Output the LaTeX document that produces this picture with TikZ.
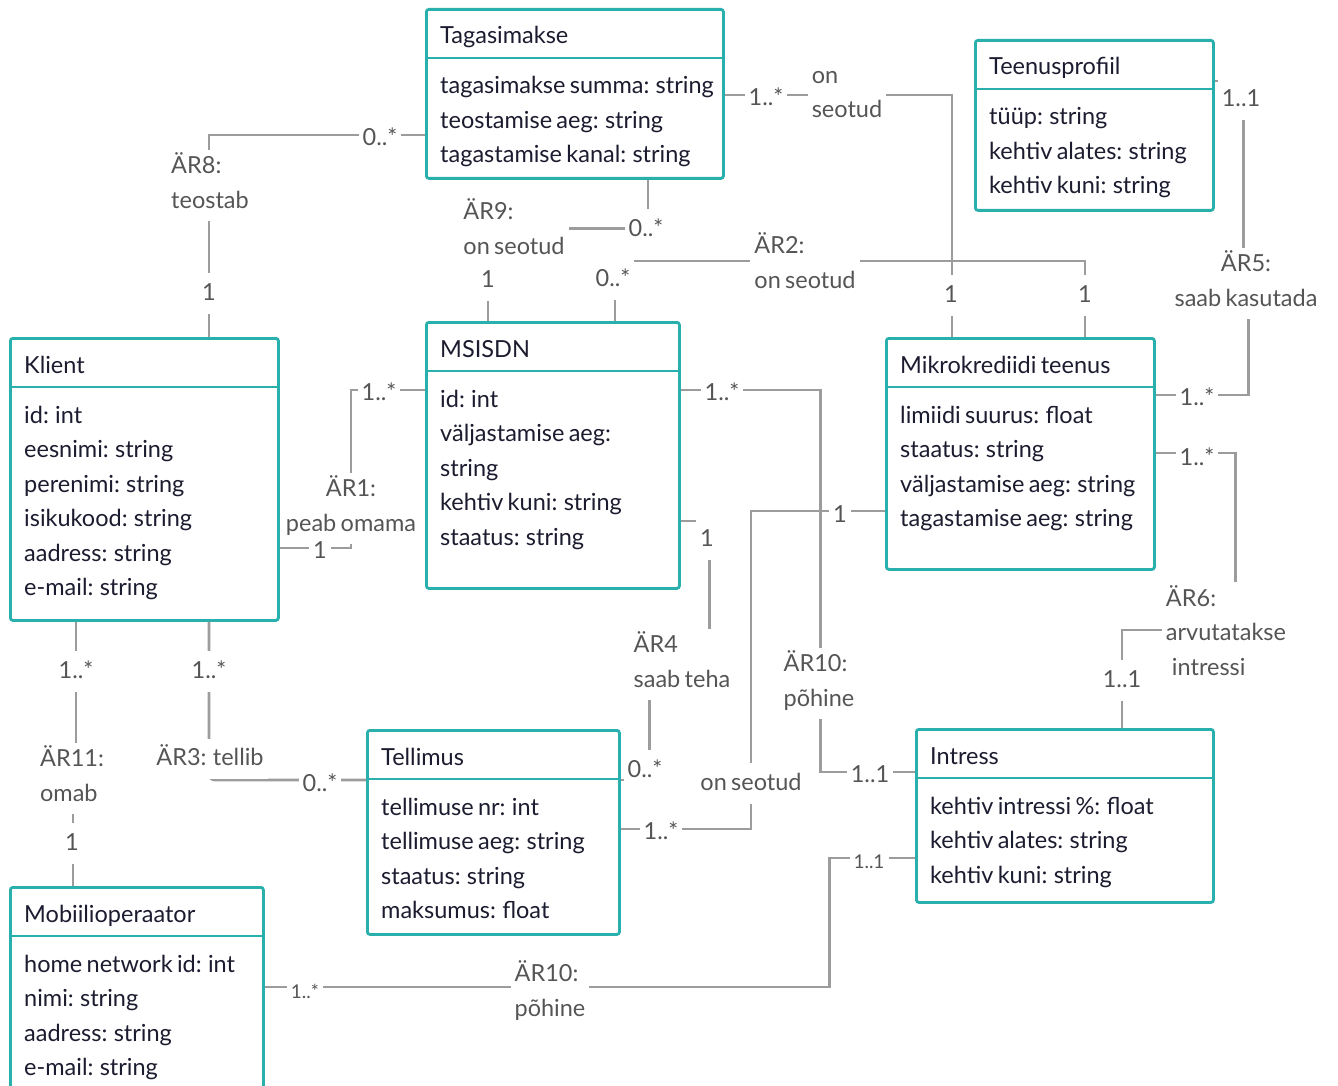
\documentclass[tikz,border=0pt]{standalone}
\usepackage{fontspec}
\setmainfont{Lato}[WordSpace=0.72]
\usepackage{tikz}
\usetikzlibrary{calc}

\definecolor{boxteal}{HTML}{2AB0AC}
\definecolor{linegray}{HTML}{9C9C9C}
\definecolor{labelgray}{HTML}{555555}
\definecolor{ink}{HTML}{1C1C30}

\tikzset{
  classbox/.style={draw=boxteal, line width=2.8pt, rounded corners=2.5pt, anchor=north west, inner sep=0pt, fill=white},
  divider/.style={draw=boxteal, line width=2.8pt},
  title/.style={anchor=base west, text=ink, inner sep=0pt, font=\fontsize{23.5}{34.5}\selectfont},
  attr/.style={title},
  rel/.style={draw=linegray, line width=2.8pt},
  lbl/.style={fill=white, text=labelgray, inner xsep=4pt, inner ysep=3pt, align=left, yshift=-3.5pt,
    font=\fontsize{23.5}{34.5}\selectfont, execute at begin node=\strut, execute at end node=\strut},
  cornerlbl/.style={lbl, yshift=3.5pt},
  smalllbl/.style={lbl, font=\fontsize{19}{34.5}\selectfont}
}

\begin{document}
\begin{tikzpicture}[x=1pt, y=-1pt]
            \fill[white] (0,0) rectangle (1338,1086);
            \useasboundingbox (0,0) rectangle (1338,1086);

            % Classes
            \node[classbox, minimum width=297pt, minimum height=169pt] (tag) at (425,8) {};
            \node[classbox, minimum width=238pt, minimum height=170pt] (tp) at (974,39) {};
            \node[classbox, minimum width=268pt, minimum height=282pt] (kl) at (9,337) {};
            \node[classbox, minimum width=253pt, minimum height=266pt] (ms) at (425,321) {};
            \node[classbox, minimum width=268pt, minimum height=231pt] (mk) at (885,337) {};
            \node[classbox, minimum width=252pt, minimum height=204pt] (tel) at (366,729) {};
            \node[classbox, minimum width=297pt, minimum height=173pt] (int) at (915,728) {};
            \node[classbox, minimum width=253pt, minimum height=230pt] (mob) at (9,886) {};

            % Header lines and titles
            \foreach \c/\t in {tag/Tagasimakse, tp/Teenusprofiil, kl/Klient, ms/MSISDN,
                mk/Mikrokrediidi teenus, tel/Tellimus, int/Intress, mob/Mobiilioperaator} {
              \draw[divider] ([yshift=-50pt]\c.north west) -- ([yshift=-50pt]\c.north east);
              \node[title] (\c-t) at ([shift={(15pt,-36pt)}]\c.north west) {\t};
            }

            % Attributes
            \foreach \a [count=\i] in {tagasimakse summa: string, teostamise aeg: string, tagastamise kanal: string}
              \node[attr] (tag-\i) at ([shift={(15pt,{(-51.5-34.5*\i)*1pt})}]tag.north west) {\a};
            \foreach \a [count=\i] in {tüüp: string, kehtiv alates: string, kehtiv kuni: string}
              \node[attr] (tp-\i) at ([shift={(15pt,{(-51.5-34.5*\i)*1pt})}]tp.north west) {\a};
            \foreach \a [count=\i] in {id: int, eesnimi: string, perenimi: string, isikukood: string, aadress: string, e-mail: string}
              \node[attr] (kl-\i) at ([shift={(15pt,{(-51.5-34.5*\i)*1pt})}]kl.north west) {\a};
            \foreach \a [count=\i] in {id: int, väljastamise aeg:, string, kehtiv kuni: string, staatus: string}
              \node[attr] (ms-\i) at ([shift={(15pt,{(-51.5-34.5*\i)*1pt})}]ms.north west) {\a};
            \foreach \a [count=\i] in {limiidi suurus: float, staatus: string, väljastamise aeg: string, tagastamise aeg: string}
              \node[attr] (mk-\i) at ([shift={(15pt,{(-51.5-34.5*\i)*1pt})}]mk.north west) {\a};
            \foreach \a [count=\i] in {tellimuse nr: int, tellimuse aeg: string, staatus: string, maksumus: float}
              \node[attr] (tel-\i) at ([shift={(15pt,{(-51.5-34.5*\i)*1pt})}]tel.north west) {\a};
            \foreach \a [count=\i] in {kehtiv intressi \%: float, kehtiv alates: string, kehtiv kuni: string}
              \node[attr] (int-\i) at ([shift={(15pt,{(-51.5-34.5*\i)*1pt})}]int.north west) {\a};
            \foreach \a [count=\i] in {home network id: int, nimi: string, aadress: string, e-mail: string}
              \node[attr] (mob-\i) at ([shift={(15pt,{(-51.5-34.5*\i)*1pt})}]mob.north west) {\a};

            % Relations
            \draw[rel] ([xshift=200pt]kl.north west) |- ([yshift=-127pt]tag.north west);
            \draw[rel] ([yshift=-87pt]tag.north east) -| ([xshift=67pt]mk.north west);
            \draw[rel] ([xshift=190pt]ms.north west) -- ++(0,-60) -| ([xshift=200pt]mk.north west);
            \draw[rel] ([xshift=223pt]tag.south west) -- ++(0,49) -| ([xshift=63pt]ms.north west);
            \draw[rel] ([yshift=-69pt]ms.north west) -- ++(-74,0) |- ([yshift=-211pt]kl.north east);
            \draw[rel] ([yshift=-58pt]mk.north east) -- ++(93,0) -- ++(0,-135) -- ++(-5,0) |- ([yshift=-42pt]tp.north east);
            \draw[rel] ([yshift=-116pt]mk.north east) -- ++(80,0) -- ++(0,177) -| ([xshift=207pt]int.north west);
            \draw[rel] ([yshift=-69pt]ms.north east) -- ++(140,0) |- ([yshift=-44pt]int.north west);
            \draw[rel] ([yshift=-200pt]ms.north east) -- ++(29,0) -- ++(0,120) -- ++(-60,0) |- ([yshift=-51pt]tel.north east);
            \draw[rel] ([yshift=-174pt]mk.north west) -- ++(-134,0) |- ([yshift=-100pt]tel.north east);
            \draw[rel] ([yshift=-101pt]mob.north east) -- ++(565,0) |- ([yshift=-130pt]int.north west);
            \draw[rel, rounded corners=6pt] ([xshift=200pt]kl.south west) |- ([yshift=-51pt]tel.north west);
            \draw[rel] ([xshift=67pt]kl.south west) -- ++(0,190) -| ([xshift=64pt]mob.north west);

            % Relation labels
            \node[lbl] (r8-a) at (380,135) {0..*};
            \node[lbl] (r8) at (210,182) {ÄR8:\\teostab};
            \node[lbl] (r8-b) at (209,290) {1};
            \node[lbl] (rs-a) at (766,95) {1..*};
            \node[lbl] (rs) at (847,96) {on\\seotud};
            \node[lbl] (rs-b) at (951,292) {1};
            \node[lbl] (r2-a) at (613,276) {0..*};
            \node[lbl] (r2) at (805,262) {ÄR2:\\on seotud};
            \node[lbl] (r2-b) at (1085,292) {1};
            \node[lbl] (r9-a) at (646,226) {0..*};
            \node[lbl] (r9) at (514,228) {ÄR9:\\on seotud};
            \node[lbl] (r9-b) at (488,277) {1};
            \node[lbl] (r1-a) at (379,390) {1..*};
            \node[lbl, align=center] (r1) at (351,505) {ÄR1:\\peab omama};
            \node[lbl] (r1-b) at (320,548) {1};
            \node[cornerlbl] (r5-a) at (1241,100) {1..1};
            \node[lbl, align=center] (r5) at (1246,280) {ÄR5:\\saab kasutada};
            \node[lbl] (r5-b) at (1197,395) {1..*};
            \node[lbl] (r6-a) at (1197,455) {1..*};
            \node[lbl] (r6) at (1226,632) {ÄR6:\\arvutatakse\\\hspace*{6pt}intressi};
            \node[lbl] (r6-b) at (1122,677) {1..1};
            \node[lbl] (r10-a) at (722,390) {1..*};
            \node[lbl] (r10) at (819,680) {ÄR10:\\põhine};
            \node[lbl] (r10-b) at (870,772) {1..1};
            \node[cornerlbl] (r4-a) at (707,540) {1};
            \node[lbl] (r4) at (682,661) {ÄR4\\saab teha};
            \node[lbl] (r4-b) at (645,767) {0..*};
            \node[lbl] (rt-a) at (840,512) {1};
            \node[lbl] (rt) at (751,780) {on seotud};
            \node[lbl] (rt-b) at (661,829) {1..*};
            \node[smalllbl] (r10m-a) at (305,988) {1..*};
            \node[lbl] (r10m) at (550,990) {ÄR10:\\põhine};
            \node[smalllbl] (r10m-b) at (869,858) {1..1};
            \node[lbl] (r3-a) at (209,668) {1..*};
            \node[cornerlbl] (r3) at (210,759) {ÄR3: tellib};
            \node[lbl] (r3-b) at (320,781) {0..*};
            \node[lbl] (r11-a) at (76,668) {1..*};
            \node[lbl] (r11) at (72,775) {ÄR11:\\omab};
            \node[lbl] (r11-b) at (72,840) {1};
\end{tikzpicture}
\end{document}
